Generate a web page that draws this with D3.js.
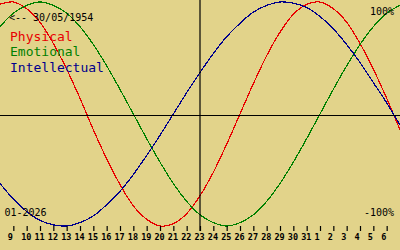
<!DOCTYPE html>
<html>
<head>
<meta charset="utf-8">
<script src="https://cdn.jsdelivr.net/npm/d3@7"></script>
<style>
  body { margin: 0; background: #e2d38a; }
  svg { display: block; }
  text { font-family: "DejaVu Sans Mono", monospace; }
</style>
</head>
<body>
<div id="chart"></div>
<script>
// Biorhythm for birth date 30/05/1954, centred on 23 Jan 2026
const width = 400, height = 250;
const bg = "#e2d38a";

// day index (8 = 8 Jan ... 38 = 7 Feb)
const days = [8, 9, 10, 11, 12, 13, 14, 15, 16, 17, 18, 19, 20, 21, 22, 23,
              24, 25, 26, 27, 28, 29, 30, 31, 32, 33, 34, 35, 36, 37, 38];

const physical = [0.98, 1.00, 0.94, 0.82, 0.63, 0.40, 0.14, -0.14, -0.40, -0.63, -0.82, -0.94, -1.00, -0.98, -0.89, -0.73,
                  -0.52, -0.27, 0.00, 0.27, 0.52, 0.73, 0.89, 0.98, 1.00, 0.94, 0.82, 0.63, 0.40, 0.14, -0.14];
const emotional = [0.78, 0.90, 0.97, 1.00, 0.97, 0.90, 0.78, 0.62, 0.43, 0.22, 0.00, -0.22, -0.43, -0.62, -0.78, -0.90,
                   -0.97, -1.00, -0.97, -0.90, -0.78, -0.62, -0.43, -0.22, 0.00, 0.22, 0.43, 0.62, 0.78, 0.90, 0.97];
const intellectual = [-0.62, -0.76, -0.87, -0.95, -0.99, -1.00, -0.97, -0.91, -0.81, -0.69, -0.54, -0.37, -0.19, 0.00, 0.19, 0.37,
                      0.54, 0.69, 0.81, 0.91, 0.97, 1.00, 0.99, 0.95, 0.87, 0.76, 0.62, 0.46, 0.28, 0.10, -0.10];

// tick positions and labels along the bottom
const tickDays = [9, 10, 11, 12, 13, 14, 15, 16, 17, 18, 19, 20, 21, 22, 23, 24, 25, 26, 27, 28, 29, 30, 31,
                  32, 33, 34, 35, 36, 37];
const tickLabels = ["9", "10", "11", "12", "13", "14", "15", "16", "17", "18", "19", "20", "21", "22", "23",
                    "24", "25", "26", "27", "28", "29", "30", "31", "1", "2", "3", "4", "5", "6"];

const series = [
  {name: "Physical", values: physical, color: "#e80000"},
  {name: "Emotional", values: emotional, color: "#008000"},
  {name: "Intellectual", values: intellectual, color: "#00008c"}
];

const svg = d3.select("#chart").append("svg")
    .attr("width", width)
    .attr("height", height);

svg.append("rect").attr("width", width).attr("height", height).attr("fill", bg);

let x = d3.scaleLinear().domain([8, 38]).range([0, 400]);
let y = d3.scaleLinear().domain([-1, 1]).range([226, 2]);

// curves
series.forEach(function(s) {
    svg.append("path")
        .datum(days.map(function(d, i) { return [d, s.values[i]]; }))
        .attr("fill", "none")
        .attr("stroke", s.color)
        .attr("stroke-width", 1.2)
        .attr("shape-rendering", "crispEdges")
        .attr("d", d3.line()
            .x(function(d) { return x(d[0]); })
            .y(function(d) { return y(d[1]); })
            .curve(d3.curveCatmullRom));
});

// crosshair on today
svg.append("line")
    .attr("x1", 0).attr("x2", width)
    .attr("y1", 115.5).attr("y2", 115.5)
    .attr("stroke", "#000").attr("stroke-width", 1.2);
svg.append("line")
    .attr("x1", x(23)).attr("x2", x(23))
    .attr("y1", 0).attr("y2", 231)
    .attr("stroke", "#000").attr("stroke-width", 1.2);

// day axis
let axis = svg.append("g").attr("transform", "translate(0,231)")
    .call(d3.axisTop(x).tickValues(tickDays).tickSize(5).tickFormat(""));
axis.select(".domain").remove();
axis.selectAll("line").attr("stroke", "#000").attr("stroke-width", 1.2);

svg.selectAll(".daylabel").data(tickDays)
    .enter().append("text")
    .attr("class", "daylabel")
    .attr("x", function(d) { return x(d) - 5.5; })
    .attr("y", 240)
    .style("font-size", "8.5px")
    .style("font-weight", "bold")
    .attr("fill", "#000")
    .text(function(d, i) { return tickLabels[i]; });

// texts
svg.append("text").attr("x", 9).attr("y", 20.5)
    .style("font-size", "10px").attr("fill", "#000")
    .text("<-- 30/05/1954");

svg.selectAll(".legend").data(series)
    .enter().append("text")
    .attr("class", "legend")
    .attr("x", 10)
    .attr("y", function(d, i) { return 41 + i * 15.3; })
    .style("font-size", "13px")
    .attr("fill", function(d) { return d.color; })
    .text(function(d) { return d.name; });

svg.append("text").attr("x", 394).attr("y", 15)
    .style("font-size", "10px").style("text-anchor", "end").attr("fill", "#000")
    .text("100%");
svg.append("text").attr("x", 394).attr("y", 215.5)
    .style("font-size", "10px").style("text-anchor", "end").attr("fill", "#000")
    .text("-100%");
svg.append("text").attr("x", 4.5).attr("y", 215.5)
    .style("font-size", "10px").attr("fill", "#000")
    .text("01-2026");
</script>
</body>
</html>
